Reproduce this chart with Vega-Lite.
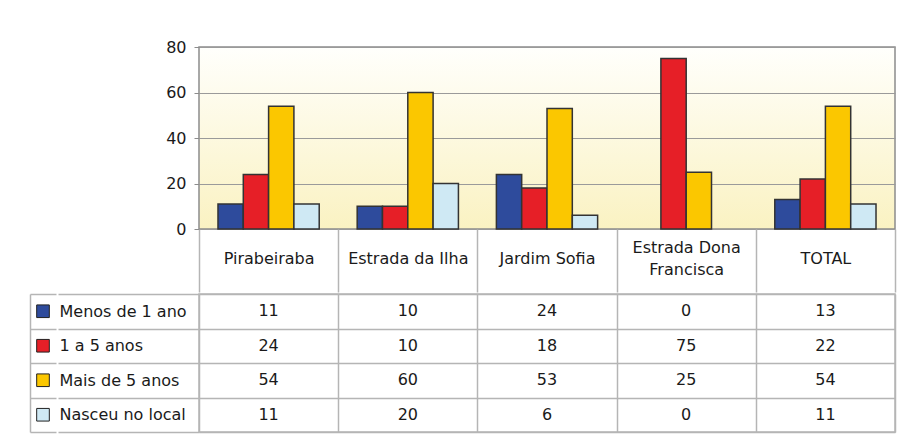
{
  "$schema": "https://vega.github.io/schema/vega-lite/v6.json",
  "padding": {"left": 30, "top": 38, "right": 5, "bottom": 5},
  "background": "white",
  "config": {
    "font": "DejaVu Sans",
    "axis": {"labelFont": "DejaVu Sans", "labelFontSize": 16, "labelColor": "#1a1a1a", "title": null},
    "view": {"stroke": "#b5b5b5", "strokeWidth": 1.5}
  },
  "datasets": {
    "d": [
      {"cat": "Pirabeiraba", "series": "Menos de 1 ano", "value": 11},
      {"cat": "Pirabeiraba", "series": "1 a 5 anos", "value": 24},
      {"cat": "Pirabeiraba", "series": "Mais de 5 anos", "value": 54},
      {"cat": "Pirabeiraba", "series": "Nasceu no local", "value": 11},
      {"cat": "Estrada da Ilha", "series": "Menos de 1 ano", "value": 10},
      {"cat": "Estrada da Ilha", "series": "1 a 5 anos", "value": 10},
      {"cat": "Estrada da Ilha", "series": "Mais de 5 anos", "value": 60},
      {"cat": "Estrada da Ilha", "series": "Nasceu no local", "value": 20},
      {"cat": "Jardim Sofia", "series": "Menos de 1 ano", "value": 24},
      {"cat": "Jardim Sofia", "series": "1 a 5 anos", "value": 18},
      {"cat": "Jardim Sofia", "series": "Mais de 5 anos", "value": 53},
      {"cat": "Jardim Sofia", "series": "Nasceu no local", "value": 6},
      {"cat": "Estrada Dona Francisca", "series": "Menos de 1 ano", "value": 0},
      {"cat": "Estrada Dona Francisca", "series": "1 a 5 anos", "value": 75},
      {"cat": "Estrada Dona Francisca", "series": "Mais de 5 anos", "value": 25},
      {"cat": "Estrada Dona Francisca", "series": "Nasceu no local", "value": 0},
      {"cat": "TOTAL", "series": "Menos de 1 ano", "value": 13},
      {"cat": "TOTAL", "series": "1 a 5 anos", "value": 22},
      {"cat": "TOTAL", "series": "Mais de 5 anos", "value": 54},
      {"cat": "TOTAL", "series": "Nasceu no local", "value": 11}
    ]
  },
  "columns": 2,
  "spacing": {"row": -15, "column": 0},
  "align": "each",
  "bounds": "full",
  "resolve": {"scale": {"x": "independent", "y": "independent", "color": "independent"}},
  "concat": [
    {
      "data": {"name": "d"},
      "width": 26,
      "height": 182,
      "view": {"stroke": null},
      "mark": {"type": "point", "opacity": 0},
      "encoding": {}
    },
    {
      "data": {"name": "d"},
      "width": 696,
      "height": 182,
      "view": {
        "stroke": "#8c8c8c",
        "strokeWidth": 1.5,
        "fill": {"expr": "{gradient: 'linear', x1: 0, y1: 0, x2: 0, y2: 1, stops: [{offset: 0, color: '#fffffc'}, {offset: 1, color: '#faf2c2'}]}"}
      },
      "mark": {"type": "bar", "stroke": "#333333", "strokeWidth": 1.5},
      "encoding": {
        "x": {
          "field": "cat", "type": "nominal",
          "sort": ["Pirabeiraba", "Estrada da Ilha", "Jardim Sofia", "Estrada Dona Francisca", "TOTAL"],
          "scale": {"paddingInner": 0, "paddingOuter": 0},
          "axis": {
            "orient": "bottom", "domain": false, "grid": false,
            "tickBand": "extent", "tickSize": 63, "tickColor": "#b5b5b5", "tickWidth": 1.5,
            "labelAngle": 0, "labelBaseline": "middle", "labelLineHeight": 22,
            "labelPadding": {"condition": {"test": "datum.value == 'Estrada Dona Francisca'", "value": -45}, "value": -34},
            "labelExpr": "datum.label == 'Estrada Dona Francisca' ? ['Estrada Dona', 'Francisca'] : datum.label"
          }
        },
        "xOffset": {
          "field": "series", "type": "nominal",
          "sort": ["Menos de 1 ano", "1 a 5 anos", "Mais de 5 anos", "Nasceu no local"],
          "scale": {"paddingInner": 0, "paddingOuter": 0.75}
        },
        "y": {
          "field": "value", "type": "quantitative",
          "scale": {"domain": [0, 80], "nice": false},
          "axis": {
            "values": [0, 20, 40, 60, 80], "domain": false, "tickSize": 5, "tickColor": "#8c8c8c",
            "labelPadding": 8, "grid": true, "gridColor": "#9a9a9a", "gridWidth": 1.2
          }
        },
        "strokeOpacity": {"condition": {"test": "datum.value === 0", "value": 0}, "value": 1},
        "color": {
          "field": "series", "type": "nominal",
          "scale": {"domain": ["Menos de 1 ano", "1 a 5 anos", "Mais de 5 anos", "Nasceu no local"], "range": ["#2e4b9c", "#e61f27", "#fbc700", "#cfe9f4"]},
          "legend": null
        }
      }
    },
    {
      "data": {"name": "d"},
      "width": 26,
      "height": 138,
      "view": {"stroke": null},
      "transform": [{"filter": "datum.cat === 'TOTAL'"}],
      "mark": {"type": "point", "shape": "square", "filled": true, "size": 160, "stroke": "#222222", "strokeWidth": 1, "opacity": 1},
      "encoding": {
        "y": {
          "field": "series", "type": "nominal",
          "sort": ["Menos de 1 ano", "1 a 5 anos", "Mais de 5 anos", "Nasceu no local"],
          "scale": {"paddingInner": 0, "paddingOuter": 0},
          "axis": {
            "orient": "left", "labels": false, "ticks": false, "domain": true,
            "domainColor": "#b5b5b5", "domainWidth": 1.5,
            "grid": true, "gridColor": "#b5b5b5", "gridWidth": 1.5, "tickBand": "extent"
          }
        },
        "color": {
          "field": "series", "type": "nominal",
          "scale": {"domain": ["Menos de 1 ano", "1 a 5 anos", "Mais de 5 anos", "Nasceu no local"], "range": ["#2e4b9c", "#e61f27", "#fbc700", "#cfe9f4"]},
          "legend": null
        }
      }
    },
    {
      "data": {"name": "d"},
      "width": 696,
      "height": 138,
      "view": {"stroke": "#b5b5b5", "strokeWidth": 1.5},
      "mark": {"type": "text", "fontSize": 16, "color": "#1a1a1a"},
      "encoding": {
        "x": {
          "field": "cat", "type": "nominal",
          "sort": ["Pirabeiraba", "Estrada da Ilha", "Jardim Sofia", "Estrada Dona Francisca", "TOTAL"],
          "scale": {"paddingInner": 0, "paddingOuter": 0},
          "axis": {
            "orient": "bottom", "labels": false, "ticks": false, "domain": false,
            "grid": true, "tickBand": "extent", "gridColor": "#b5b5b5", "gridWidth": 1.5
          }
        },
        "y": {
          "field": "series", "type": "nominal",
          "sort": ["Menos de 1 ano", "1 a 5 anos", "Mais de 5 anos", "Nasceu no local"],
          "scale": {"paddingInner": 0, "paddingOuter": 0},
          "axis": {
            "orient": "left", "domain": false, "grid": true, "tickBand": "extent",
            "gridColor": "#b5b5b5", "gridWidth": 1.5,
            "tickSize": 141, "tickColor": "#b5b5b5", "tickWidth": 1.5,
            "labelAlign": "left", "labelPadding": -1, "labelBaseline": "middle"
          }
        },
        "text": {"field": "value", "type": "quantitative"}
      }
    }
  ]
}
